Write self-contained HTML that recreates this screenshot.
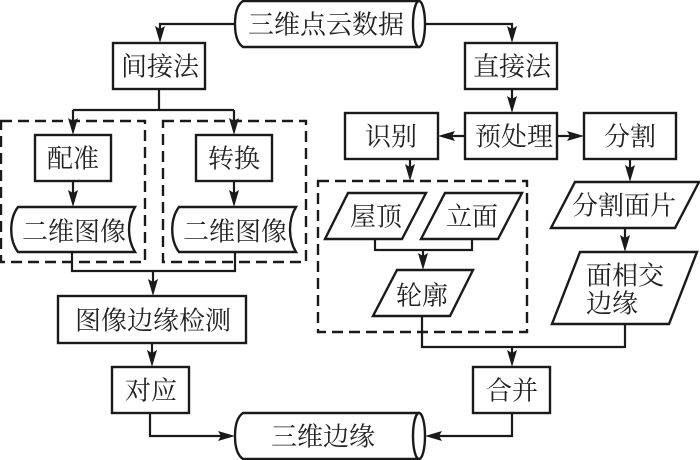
<!DOCTYPE html>
<html><head><meta charset="utf-8"><style>
html,body{margin:0;padding:0;background:#fff;width:700px;height:460px;overflow:hidden}
svg{display:block}
text{font-family:"Liberation Serif","Noto Serif CJK SC",serif;font-size:26px;fill:#222;text-anchor:middle;dominant-baseline:central}
.s{fill:#fff;stroke:#1a1a1a;stroke-width:2.4}
.l{fill:none;stroke:#1a1a1a;stroke-width:2.2}
.d{fill:none;stroke:#1a1a1a;stroke-width:2.4;stroke-dasharray:11 6}
.a{fill:#1a1a1a;stroke:none}
</style></head><body>
<svg width="700" height="460" viewBox="0 0 700 460" xmlns="http://www.w3.org/2000/svg">
<!-- dashed groups -->
<rect class="d" x="1" y="121" width="144" height="141"/>
<rect class="d" x="163" y="121" width="143" height="141"/>
<rect class="d" x="318" y="181" width="209" height="151"/>
<!-- connectors -->
<path class="l" d="M235 24H160V32M425 24H512V32M159 89V110M73 110H234M73 110V120M234 110V120M73 181V194M234 181V194M72 252V271H235V252M153 271V282M152 343V354M150 413V436H222M512 89V100M465 136H450M557 136H571M410 159V168M630 159V169M625 228V240M375 239V250H472V239M423 250V258M422 316V347H625V324M512 347V354M512 413V436H438"/>
<!-- cylinders -->
<path class="s" d="M419 1H243C237 5 235 14 235 24C235 34 237 43 243 47H419Z"/>
<ellipse class="s" cx="419" cy="24" rx="6" ry="23"/>
<path class="s" d="M419 413H243C237 417 235 426 235 436C235 446 237 455 243 459H419Z"/>
<ellipse class="s" cx="419" cy="436" rx="6" ry="23"/>
<!-- boxes -->
<rect class="s" x="113" y="43" width="92" height="46"/>
<rect class="s" x="465" y="43" width="92" height="46"/>
<rect class="s" x="345" y="113" width="93" height="46"/>
<rect class="s" x="465" y="113" width="92" height="46"/>
<rect class="s" x="584" y="113" width="92" height="46"/>
<rect class="s" x="35" y="135" width="76" height="46"/>
<rect class="s" x="196" y="135" width="76" height="46"/>
<rect class="s" x="58" y="296" width="188" height="47"/>
<rect class="s" x="112" y="367" width="77" height="46"/>
<rect class="s" x="473" y="367" width="77" height="46"/>
<!-- stored data shapes -->
<path class="s" d="M18 207H135C127 220 127 239 135 252H18C9 240 9 219 18 207Z"/>
<path class="s" d="M179 207H296C288 220 288 239 296 252H179C170 240 170 219 179 207Z"/>
<!-- parallelograms -->
<polygon class="s" points="348,193 426,193 402,239 325,239"/>
<polygon class="s" points="445,193 522,193 498,239 421,239"/>
<polygon class="s" points="397,270 473,270 450,316 373,316"/>
<polygon class="s" points="575,182 699,182 675,228 551,228"/>
<polygon class="s" points="580,252 697,252 669,324 552,324"/>
<!-- arrowheads -->
<polygon class="a" points="155,26 160,29 165,26 160,43"/>
<polygon class="a" points="507,26 512,29 517,26 512,43"/>
<polygon class="a" points="68,118 73,121 78,118 73,135"/>
<polygon class="a" points="229,118 234,121 239,118 234,135"/>
<polygon class="a" points="68,190 73,193 78,190 73,207"/>
<polygon class="a" points="229,190 234,193 239,190 234,207"/>
<polygon class="a" points="148,279 153,282 158,279 153,296"/>
<polygon class="a" points="147,350 152,353 157,350 152,367"/>
<polygon class="a" points="218,431 221,436 218,441 235,436"/>
<polygon class="a" points="507,96 512,99 517,96 512,113"/>
<polygon class="a" points="455,131 452,136 455,141 438,136"/>
<polygon class="a" points="567,131 570,136 567,141 584,136"/>
<polygon class="a" points="405,164 410,167 415,164 410,181"/>
<polygon class="a" points="625,165 630,168 635,165 630,182"/>
<polygon class="a" points="620,235 625,238 630,235 625,252"/>
<polygon class="a" points="418,253 423,256 428,253 423,270"/>
<polygon class="a" points="507,350 512,353 517,350 512,367"/>
<polygon class="a" points="442,431 439,436 442,441 425,436"/>
<!-- labels -->
<g transform="translate(0 1)">
<text x="326" y="24">三维点云数据</text>
<text x="160" y="66">间接法</text>
<text x="512" y="66">直接法</text>
<text x="391" y="136">识别</text>
<text x="514" y="136">预处理</text>
<text x="630" y="136">分割</text>
<text x="73" y="158">配准</text>
<text x="234" y="158">转换</text>
<text x="74" y="231">二维图像</text>
<text x="235" y="231">二维图像</text>
<text x="376" y="216">屋顶</text>
<text x="472" y="216">立面</text>
<text x="422" y="295">轮廓</text>
<text x="624" y="205">分割面片</text>
<text x="625" y="275">面相交</text>
<text x="612" y="303">边缘</text>
<text x="153" y="320">图像边缘检测</text>
<text x="151" y="390">对应</text>
<text x="512" y="390">合并</text>
<text x="323" y="436">三维边缘</text>
</g>
</svg>
</body></html>
